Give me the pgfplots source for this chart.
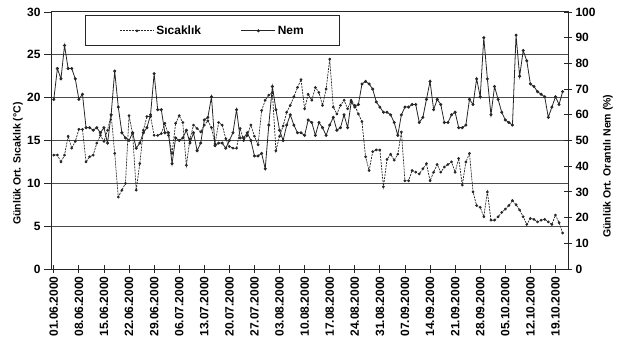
\documentclass[border=0pt]{standalone}
\usepackage{fontspec}
\setmainfont{Liberation Sans}
\usepackage{pgfplots}
\usepackage{pgfplotstable}
\pgfplotsset{compat=1.18}
\pgfplotstableread{
i T H
0 13.3 66
1 13.3 78
2 12.5 74
3 13.3 87
4 15.5 78
5 14.1 78
6 14.9 74
7 16.3 66
8 16.3 68
9 12.5 55
10 13.1 55
11 13.3 54
12 14.7 55
13 15.6 53
14 14.9 55
15 16.2 49
16 18.0 60
17 13.5 77
18 8.4 63
19 9.2 53
20 10.0 51
21 17.9 50
22 15.8 53
23 9.2 47
24 12.3 49
25 16.2 53
26 17.8 55
27 17.8 60
28 15.6 76
29 15.6 62
30 15.8 62
31 17.0 53
32 15.6 53
33 13.5 41
34 17.0 51
35 17.9 50
36 17.1 51
37 12.1 54
38 15.2 49
39 16.8 53
40 16.4 46
41 16.0 49
42 16.8 58
43 17.3 59
44 16.5 67
45 14.6 48
46 17.1 49
47 16.8 49
48 15.2 47
49 14.3 50
50 14.1 53
51 14.1 62
52 16.4 51
53 15.0 51
54 15.6 53
55 16.8 50
56 15.5 44
57 14.5 44
58 18.5 45
59 19.7 39
60 20.3 56
61 20.6 71
62 13.8 62
63 15.5 54
64 16.7 50
65 18.3 56
66 19.1 60
67 20.1 56
68 21.2 53
69 22.1 53
70 18.7 52
71 20.4 58
72 19.7 57
73 21.2 52
74 20.6 57
75 19.1 55
76 21.0 52
77 24.5 56
78 18.9 59
79 18.1 54
80 19.1 55
81 19.7 60
82 18.7 55
83 19.7 65
84 19.1 63
85 18.1 64
86 17.2 72
87 13.1 73
88 11.5 72
89 13.7 70
90 13.9 65
91 13.9 63
92 9.6 61
93 12.8 61
94 13.4 60
95 12.7 57
96 13.4 52
97 16.0 60
98 10.3 63
99 10.3 63
100 11.5 64
101 11.3 64
102 11.1 57
103 11.7 59
104 12.3 66
105 10.3 73
106 11.3 62
107 12.2 66
108 11.3 64
109 11.9 57
110 12.2 57
111 12.5 60
112 11.3 61
113 12.9 55
114 9.8 55
115 12.5 56
116 13.5 66
117 9.0 64
118 7.4 74
119 7.2 67
120 6.1 90
121 9.0 74
122 5.7 60
123 5.7 71
124 6.1 66
125 6.6 61
126 7.0 58
127 7.4 57
128 8.0 56
129 7.5 91
130 6.9 75
131 6.1 85
132 5.2 81
133 5.9 72
134 5.8 71
135 5.5 69
136 5.7 68
137 5.8 67
138 5.5 59
139 5.2 63
140 6.3 67
141 5.4 64
142 4.2 69
}\data
\begin{document}
\begin{tikzpicture}
\pgfplotsset{
  base/.style={
    at={(0,0)}, anchor=south west, scale only axis,
    width=516pt, height=257pt,
    xmin=-0.5, xmax=143.5,
    /pgf/number format/assume math mode=true,
    tick label style={font=\fontsize{12}{12}\selectfont\bfseries},
    label style={font=\fontsize{10.5}{11}\selectfont\bfseries},
    axis line style={line width=1pt, black!85},
    major tick style={line width=0.8pt, black!85},
    major tick length=8pt,
  },
  temp/.style={black!85, line width=0.7pt, dash pattern=on 2pt off 1pt, mark=*, mark size=1pt, mark options={solid}},
  hum/.style={black!85, line width=0.8pt, solid, mark=*, mark size=1.1pt},
}
\begin{axis}[base,
  ymin=0, ymax=30, ytick={0,5,...,30},
  xtick={0,7,...,140},
  xticklabels={01.06.2000,08.06.2000,15.06.2000,22.06.2000,29.06.2000,06.07.2000,13.07.2000,20.07.2000,27.07.2000,03.08.2000,10.08.2000,17.08.2000,24.08.2000,31.08.2000,07.09.2000,14.09.2000,21.09.2000,28.09.2000,05.10.2000,12.10.2000,19.10.2000},
  xticklabel style={rotate=90, anchor=east},
  xtick pos=bottom, ytick pos=left,
  xtick align=center, ytick align=outside,
  ymajorgrids, grid style={line width=1pt, black!70},
  ylabel={Günlük Ort. Sıcaklık (°C)},
  ylabel style={at={(axis description cs:-0.066,0.41)}, anchor=center},
]
\addplot[temp] table[x=i,y=T]{\data};
\end{axis}
\begin{axis}[base,
  axis y line*=right, axis x line=none,
  ymin=0, ymax=100, ytick={0,10,...,100},
  ytick align=center,
  ylabel={Günlük Ort. Orantılı Nem (\%)},
  ylabel style={at={(axis description cs:1.0775,0.40)}, anchor=center},
  legend columns=2,
  legend image code/.code={\draw[mark repeat=2,mark phase=2,#1] plot coordinates {(0pt,0pt) (17pt,0pt) (34pt,0pt)};},
  legend style={at={(0.064,0.988)}, anchor=north west, draw=black!85, line width=1.2pt, fill=white,
    font=\fontsize{12}{12}\selectfont\bfseries, inner xsep=34pt, inner ysep=8pt,
    /tikz/every even column/.append style={column sep=38pt}},
]
\addlegendimage{temp}
\addlegendentry{Sıcaklık}
\addplot[hum] table[x=i,y=H]{\data};
\addlegendentry{Nem}
\end{axis}
\pgfresetboundingbox
\useasboundingbox (-52pt,-76pt) rectangle (571pt,269pt);
\end{tikzpicture}
\end{document}
